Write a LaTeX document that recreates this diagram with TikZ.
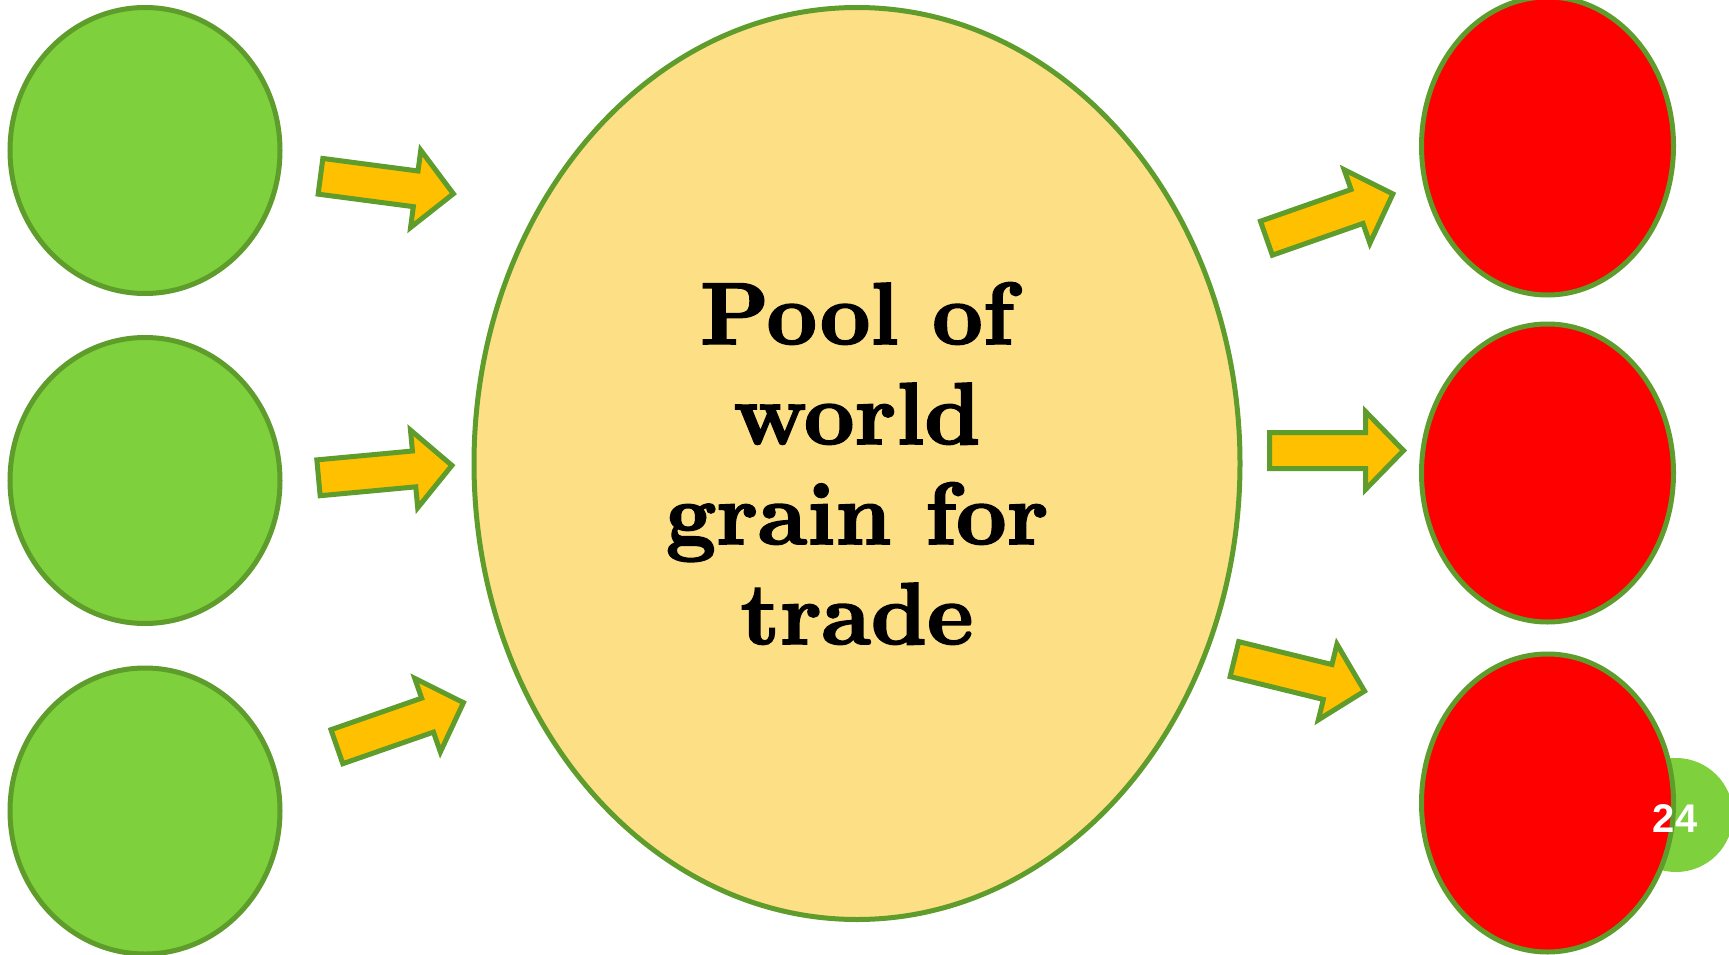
\documentclass[tikz,border=0pt]{standalone}
\usetikzlibrary{shapes.geometric}
\usepackage{fontspec}
\newfontfamily\pagefont{Liberation Sans}
\newfontfamily\poolfont{lmroman10-bold}[Extension=.otf, FakeBold=2]
\definecolor{leafgreen}{HTML}{7ED03C}
\definecolor{edgegreen}{HTML}{5E9C2C}
\definecolor{poolyellow}{HTML}{FDDF86}
\definecolor{arrowgold}{HTML}{FFC000}
\definecolor{deficitred}{HTML}{FF0000}
\tikzset{
  blob/.style={ellipse, draw=edgegreen, line width=5pt, inner sep=0pt},
  surplus/.style={blob, fill=leafgreen, minimum width=270pt, minimum height=286pt},
  deficit/.style={blob, fill=deficitred, minimum width=252pt, minimum height=298pt},
  pool/.style={blob, fill=poolyellow, minimum width=766pt, minimum height=912pt},
  arrowsty/.style={draw=edgegreen, fill=arrowgold, line width=5pt, line join=miter},
  fatarrow/.pic={\draw[arrowsty] (0,-18) -- (96,-18) -- (96,-39) -- (134,0) -- (96,39) -- (96,18) -- (0,18) -- cycle;},
  pooltext/.style={align=center, font=\poolfont\fontsize{88}{100}\selectfont, inner sep=0pt},
  pagebadge/.style={circle, fill=leafgreen, minimum size=114pt, inner sep=0pt},
  pagetext/.style={text=white, font=\pagefont\fontsize{40}{40}\selectfont\bfseries, inner sep=0pt}
}
\begin{document}
\begin{tikzpicture}[x=1pt, y=-1pt]
\path[use as bounding box] (0,0) rectangle (1729,955);
% exporters
\node[surplus] (s1) at (145,150.5) {};
\node[surplus] (s2) at (145,480.5) {};
\node[surplus] (s3) at (145,811) {};
% pool
\node[pool] (pool) at (857,463.5) {};
\node[pooltext] (pooltxt) at (pool.center) {Pool of\\world\\grain for\\trade};
% arrows in
\pic[rotate=-7.5] at (320.5,176.3) {fatarrow};
\pic[rotate=5.3] at (318.5,477.8) {fatarrow};
\pic[rotate=19.2] at (336.9,746.7) {fatarrow};
% arrows out
\pic[rotate=19.3] at (1266.4,238.2) {fatarrow};
\pic[rotate=0] at (1269.5,450.5) {fatarrow};
\pic[rotate=-13.8] at (1234.4,659.1) {fatarrow};
% page badge
\node[pagebadge] (badge) at (1676,815) {};
% importers
\node[deficit] (d1) at (1547.5,146) {};
\node[deficit] (d2) at (1547.5,473) {};
\node[deficit] (d3) at (1547.5,803) {};
\node[pagetext] (pagenum) at (1675,819) {24};
\end{tikzpicture}
\end{document}
